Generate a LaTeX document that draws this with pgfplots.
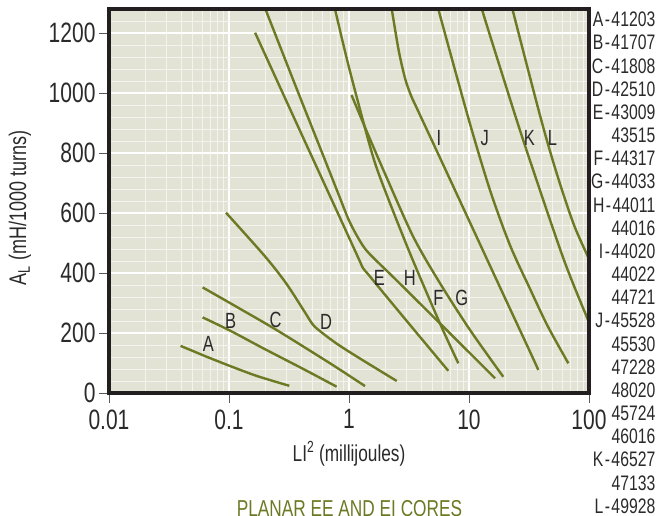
\documentclass[border=0pt]{standalone}
\usepackage{fontspec}
\setmainfont{Liberation Sans}[FakeStretch=0.75]
\usepackage{pgfplots}
\pgfplotsset{compat=1.18}
\definecolor{bgcol}{HTML}{E2E3D5}
\definecolor{olive}{HTML}{6B7A23}
\definecolor{axcol}{HTML}{231F20}
\definecolor{txtcol}{HTML}{2A2A2A}
\begin{document}
\begin{tikzpicture}[curve/.style={draw=olive, line width=2.4pt, smooth, tension=0.5, line join=round, mark=none, solid}]
\begin{axis}[
  at={(0pt,0pt)}, anchor=south west,
  scale only axis, width=480pt, height=384pt,
  xmode=log, log basis x=10,
  xmin=0.01, xmax=100, ymin=0, ymax=1280,
  xtick={0.01,0.1,1,10,100}, xticklabels={0.01,0.1,1,10,100},
  ytick={0,200,400,600,800,1000,1200}, yticklabels={0,200,400,600,800,1000,1200},
  minor xtick={0.02,0.03,0.04,0.05,0.06,0.07,0.08,0.09,0.2,0.3,0.4,0.5,0.6,0.7,0.8,0.9,2,3,4,5,6,7,8,9,20,30,40,50,60,70,80,90},
  minor ytick={40,80,...,1280},
  /pgf/number format/assume math mode=true,
  grid=both,
  major grid style={white, line width=1.3pt},
  minor grid style={white!60!bgcol, line width=0.9pt},
  axis background/.style={fill=bgcol},
  axis line style={draw=none},
  tick align=outside, tick pos=left,
  major tick length=10pt, minor tick length=0pt,
  tick style={black!65, line width=0.9pt},
  tick label style={font=\fontsize{28}{28}\selectfont, text=txtcol},
  xticklabel style={yshift=-3pt},
  cycle list={{draw=olive}},
]
% A
\addplot[curve] coordinates {(0.0395,157) (0.05,140) (0.065,121) (0.102,90) (0.17,57) (0.318,24)};
% B
\addplot[curve] coordinates {(0.0603,252) (0.102,208) (0.193,149) (0.416,80) (0.789,21)};
% C
\addplot[curve] coordinates {(0.0603,352) (0.116,287) (0.249,210) (0.695,99) (1.36,23)};
% D
\addplot[curve] coordinates {(0.0944,601) (0.2,455) (0.3,365) (0.42,275) (0.5,228) (0.6,200) (0.8,163) (1.2,118) (2.5,40)};
% E
\addplot[curve] coordinates {(0.165,1201) (0.4,865) (0.8,603) (1.2,449) (1.31,416) (1.45,395) (2.0,327) (3.43,214) (6.72,74)};
% H
\addplot[curve] coordinates {(0.19,1305) (0.356,1027) (0.695,734) (0.841,650) (1.0,575) (1.2,515) (1.45,468) (2.5,375) (5.73,232) (16.5,49)};
% F
\addplot[curve] coordinates {(0.745,1300) (0.764,1280) (1.0,1085) (1.5,821) (1.87,705) (3.22,466) (5.73,232) (8.15,99)};
% G
\addplot[curve] coordinates {(1.05,993) (1.44,862) (2.0,730) (3.43,521) (5.73,366) (10.2,210) (19.3,54)};
% I
\addplot[curve] coordinates {(2.2,1310) (2.27,1280) (2.6,1140) (2.95,1045) (3.3,990) (3.6,957) (5.73,784) (10.2,568) (18.1,353) (32.2,138) (37.8,77)};
% J
\addplot[curve] coordinates {(5.4,1310) (5.55,1280) (10,909) (15,675) (22,492) (32,350) (45,225) (67.3,99)};
% K
\addplot[curve] coordinates {(12.5,1310) (12.8,1280) (19,1060) (29,830) (61,450) (100,235) (112,180)};
% L
\addplot[curve] coordinates {(22.3,1310) (23,1280) (40,910) (55,720) (75,560) (100,447) (110,410)};

\begin{scope}[every node/.style={font=\fontsize{22}{22}\selectfont, text=txtcol}]
\node at (axis cs:0.0672,163) {A};
\node at (axis cs:0.103,241) {B};
\node at (axis cs:0.245,243) {C};
\node at (axis cs:0.643,238) {D};
\node at (axis cs:1.79,382) {E};
\node at (axis cs:3.22,382) {H};
\node at (axis cs:5.55,316) {F};
\node at (axis cs:8.69,316) {G};
\node at (axis cs:5.62,849) {I};
\node at (axis cs:13.5,849) {J};
\node at (axis cs:31.9,849) {K};
\node at (axis cs:49.7,849) {L};
\end{scope}
\end{axis}
\draw[axcol, line width=3.3pt] (0pt,0pt) rectangle (480pt,384pt);
% axis labels
\node[rotate=90, font=\fontsize{24}{24}\selectfont, text=txtcol] at (-89pt,185pt) {A\textsubscript{L} (mH/1000 turns)};
\node[anchor=base, font=\fontsize{23}{23}\selectfont, text=txtcol] at (240pt,-69pt) {LI\textsuperscript{2} (millijoules)};
\node[anchor=base, font=\fontsize{23}{23}\selectfont, text=olive] at (240.5pt,-124pt) {PLANAR EE AND EI CORES};
% right column
\foreach \t [count=\i from 0] in {A\kern1.5pt-\kern1.5pt41203, B\kern1.5pt-\kern1.5pt41707, C\kern1.5pt-\kern1.5pt41808, D\kern1.5pt-\kern1.5pt42510, E\kern1.5pt-\kern1.5pt43009, 43515, F\kern1.5pt-\kern1.5pt44317, G\kern1.5pt-\kern1.5pt44033, H\kern1.5pt-\kern1.5pt44011, 44016, I\kern1.5pt-\kern1.5pt44020, 44022, 44721, J\kern1.5pt-\kern1.5pt45528, 45530, 47228, 48020, 45724, 46016, K\kern1.5pt-\kern1.5pt46527, 47133, L\kern1.5pt-\kern1.5pt49928}
  \node[anchor=base east, inner sep=0pt, font=\fontsize{21}{21}\selectfont, text=txtcol] at (546.5pt,{366.3pt-\i*23.17pt}) {\t};
\pgfresetboundingbox
\path[use as bounding box] (-109pt,-123pt) rectangle (548pt,393pt);
\end{tikzpicture}
\end{document}
